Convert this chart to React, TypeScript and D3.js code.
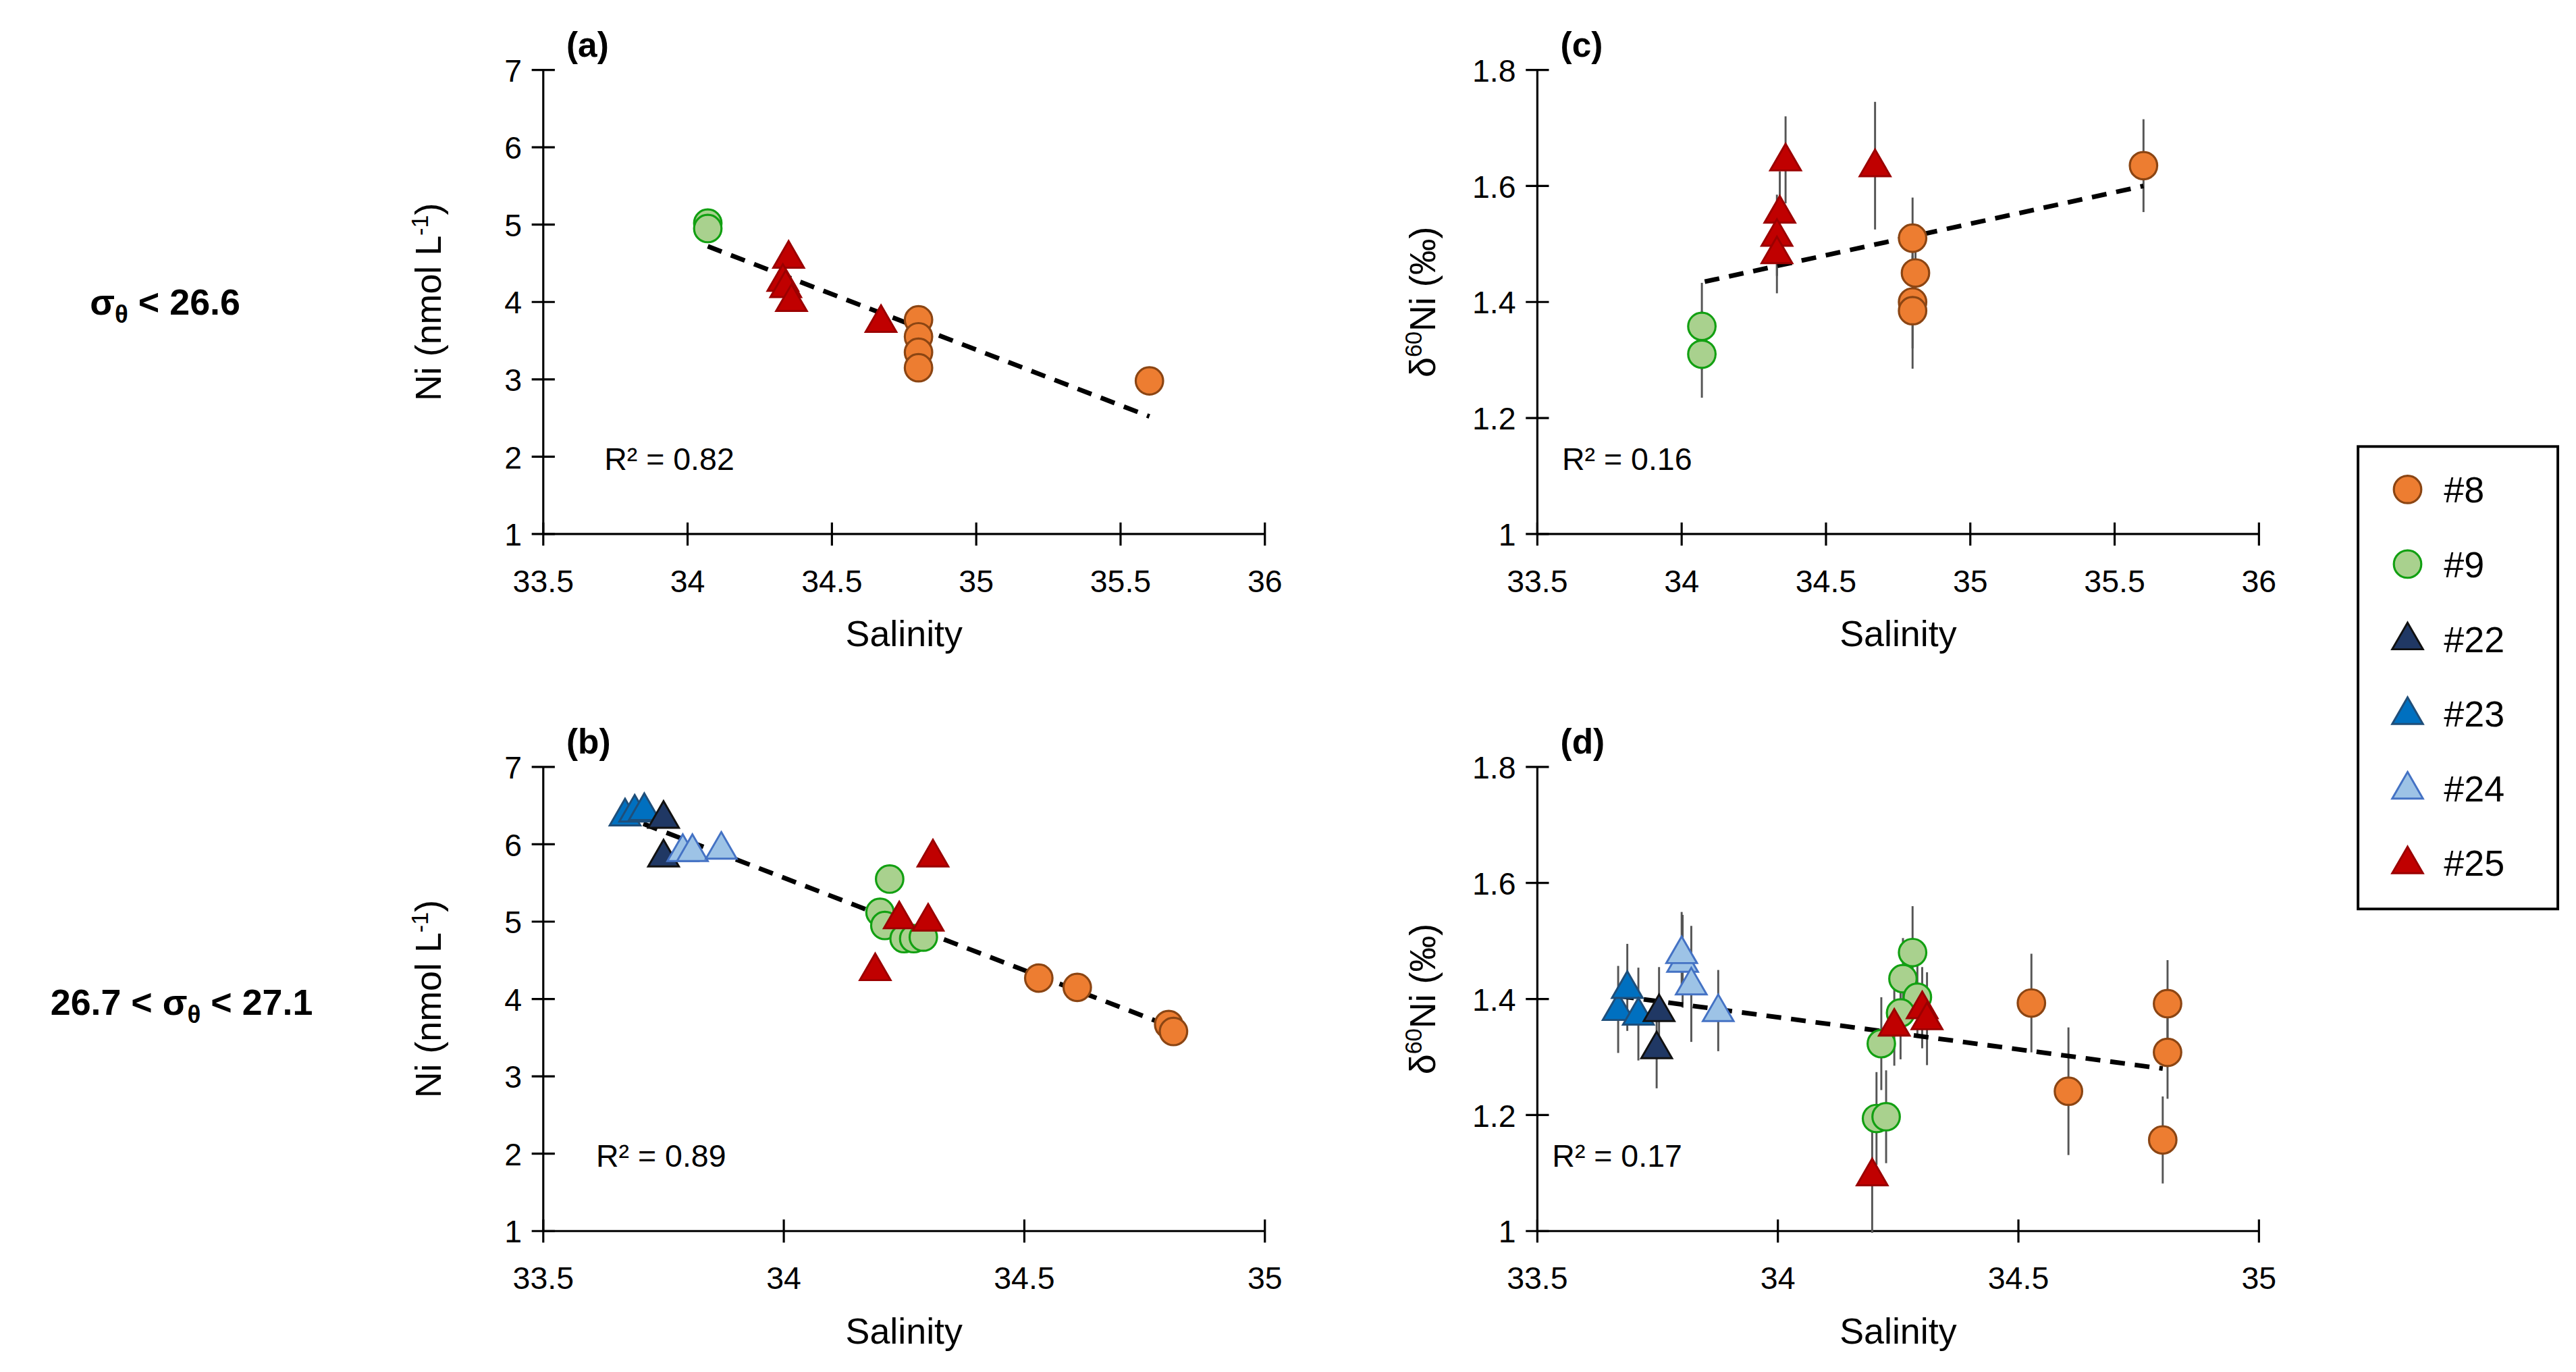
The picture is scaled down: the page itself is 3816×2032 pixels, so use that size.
import React from "react";
import { scaleLinear, symbol, symbolTriangle } from "d3";

// station styles
const stations = ["#8", "#9", "#22", "#23", "#24", "#25"];
const fills: any = { "#8": "#ED7D31", "#9": "#A9D18E", "#22": "#203864", "#23": "#0070C0", "#24": "#9DC3E6", "#25": "#C00000" };
const strokes: any = { "#8": "#8B4513", "#9": "#12A012", "#22": "#111111", "#23": "#1F4E79", "#24": "#4472C4", "#25": "#9B0000" };
const isCircle = (s: string) => s === "#8" || s === "#9";

// [station, salinity, value, error]
const dataA: Array<[string, number, number, number]> = [
  ["#9", 34.07, 5.02, 0], ["#9", 34.07, 4.95, 0],
  ["#25", 34.35, 4.58, 0], ["#25", 34.33, 4.28, 0], ["#25", 34.34, 4.2, 0], ["#25", 34.36, 4.02, 0], ["#25", 34.67, 3.75, 0],
  ["#8", 34.8, 3.77, 0], ["#8", 34.8, 3.55, 0], ["#8", 34.8, 3.35, 0], ["#8", 34.8, 3.15, 0], ["#8", 35.6, 2.98, 0],
];
const dataC: Array<[string, number, number, number]> = [
  ["#9", 34.07, 1.358, 0.075], ["#9", 34.07, 1.31, 0.075],
  ["#25", 34.36, 1.645, 0.075], ["#25", 34.34, 1.555, 0.07], ["#25", 34.33, 1.515, 0.07], ["#25", 34.33, 1.485, 0.07], ["#25", 34.67, 1.635, 0.11],
  ["#8", 34.8, 1.51, 0.07], ["#8", 34.81, 1.45, 0.08], ["#8", 34.8, 1.40, 0.08], ["#8", 34.8, 1.385, 0.1], ["#8", 35.6, 1.635, 0.08],
];
const dataB: Array<[string, number, number, number]> = [
  ["#23", 33.67, 6.38, 0], ["#23", 33.69, 6.43, 0], ["#23", 33.71, 6.45, 0],
  ["#22", 33.75, 6.35, 0], ["#22", 33.75, 5.85, 0],
  ["#24", 33.79, 5.92, 0], ["#24", 33.81, 5.92, 0], ["#24", 33.87, 5.95, 0],
  ["#9", 34.22, 5.55, 0], ["#9", 34.2, 5.12, 0], ["#9", 34.21, 4.95, 0], ["#9", 34.25, 4.78, 0], ["#9", 34.27, 4.78, 0], ["#9", 34.29, 4.8, 0],
  ["#25", 34.31, 5.85, 0], ["#25", 34.24, 5.05, 0], ["#25", 34.3, 5.02, 0], ["#25", 34.19, 4.38, 0],
  ["#8", 34.53, 4.27, 0], ["#8", 34.61, 4.15, 0], ["#8", 34.8, 3.67, 0], ["#8", 34.81, 3.58, 0],
];
const dataD: Array<[string, number, number, number]> = [
  ["#23", 33.668, 1.382, 0.075], ["#23", 33.687, 1.42, 0.075], ["#23", 33.71, 1.374, 0.08],
  ["#22", 33.753, 1.38, 0.075], ["#22", 33.748, 1.316, 0.07],
  ["#24", 33.802, 1.465, 0.08], ["#24", 33.80, 1.48, 0.07], ["#24", 33.82, 1.426, 0.1], ["#24", 33.876, 1.38, 0.07],
  ["#9", 34.28, 1.48, 0.08], ["#9", 34.26, 1.435, 0.07], ["#9", 34.29, 1.403, 0.07], ["#9", 34.255, 1.376, 0.08], ["#9", 34.215, 1.323, 0.08], ["#9", 34.205, 1.194, 0.08], ["#9", 34.225, 1.197, 0.08],
  ["#25", 34.196, 1.097, 0.1], ["#25", 34.242, 1.355, 0.07], ["#25", 34.3, 1.385, 0.07], ["#25", 34.31, 1.366, 0.08],
  ["#8", 34.527, 1.393, 0.085], ["#8", 34.604, 1.241, 0.11], ["#8", 34.81, 1.392, 0.075], ["#8", 34.81, 1.308, 0.08], ["#8", 34.80, 1.157, 0.075],
];

const trendA = [[34.07, 4.72], [35.6, 2.52]];
const trendC = [[34.08, 1.435], [35.6, 1.6]];
const trendB = [[33.66, 6.38], [34.81, 3.63]];
const trendD = [[33.67, 1.405], [34.8, 1.28]];

const xTicksWide = [33.5, 34, 34.5, 35, 35.5, 36];
const xTicksNarrow = [33.5, 34, 34.5, 35];
const niTicks = [1, 2, 3, 4, 5, 6, 7];
const deltaTicks = [1, 1.2, 1.4, 1.6, 1.8];

const FONT = "Liberation Sans, Arial, sans-serif";

const Marker: React.FC<{ s: string; x: number; y: number }> = ({ s, x, y }) =>
  isCircle(s) ? (
    <circle cx={x} cy={y} r={8.3} fill={fills[s]} stroke={strokes[s]} strokeWidth={1.3} />
  ) : (
    <path d={symbol(symbolTriangle, 150)() as string} transform={`translate(${x},${y + 1})`} fill={fills[s]} stroke={strokes[s]} strokeWidth={1.2} />
  );

interface PanelProps {
  left: number; top: number; xDomain: [number, number]; yDomain: [number, number];
  xTicks: number[]; yTicks: number[]; data: Array<[string, number, number, number]>;
  trend: number[][]; tag: string; r2: string; r2x: number; delta: boolean;
}

const Panel: React.FC<PanelProps> = ({ left, top, xDomain, yDomain, xTicks, yTicks, data, trend, tag, r2, r2x, delta }) => {
  const w = 437, h = 281;
  const x = scaleLinear().domain(xDomain).range([left, left + w]);
  const y = scaleLinear().domain(yDomain).range([top + h, top]);
  const yc = top + h / 2;
  return (
    <g fontFamily={FONT}>
      <line x1={left} x2={left} y1={top} y2={top + h} stroke="#000" strokeWidth={1.3} />
      <line x1={left} x2={left + w} y1={top + h} y2={top + h} stroke="#000" strokeWidth={1.3} />
      {yTicks.map((t) => (
        <g key={"y" + t}>
          <line x1={left - 7} x2={left + 7} y1={y(t)} y2={y(t)} stroke="#000" strokeWidth={1.3} />
          <text x={left - 13} y={y(t) + 7} textAnchor="end" fontSize={19}>{t}</text>
        </g>
      ))}
      {xTicks.map((t) => (
        <g key={"x" + t}>
          <line x1={x(t)} x2={x(t)} y1={top + h - 7} y2={top + h + 7} stroke="#000" strokeWidth={1.3} />
          <text x={x(t)} y={top + h + 35} textAnchor="middle" fontSize={19}>{t}</text>
        </g>
      ))}
      <text x={left + w / 2} y={top + h + 68} textAnchor="middle" fontSize={22}>Salinity</text>
      <text transform={`translate(${left - 62},${yc}) rotate(-90)`} textAnchor="middle" fontSize={22}>
        {delta ? (<>δ<tspan fontSize={14} dy={-8}>60</tspan><tspan dy={8}>Ni (‰)</tspan></>)
          : (<>Ni (nmol L<tspan fontSize={14} dy={-8}>-1</tspan><tspan dy={8}>)</tspan></>)}
      </text>
      <text x={left + 14} y={top - 8} fontSize={21} fontWeight="bold">{tag}</text>
      <text x={r2x} y={top + h - 39} fontSize={19}>R² = {r2}</text>
      {data.filter((d) => d[3] > 0).map((d, i) => (
        <line key={"e" + i} x1={x(d[1])} x2={x(d[1])} y1={y(d[2] - d[3])} y2={y(d[2] + d[3])} stroke="#555" strokeWidth={1.2} />
      ))}
      <line x1={x(trend[0][0])} y1={y(trend[0][1])} x2={x(trend[1][0])} y2={y(trend[1][1])} stroke="#000" strokeWidth={2.8} strokeDasharray="9,6" />
      {data.map((d, i) => <Marker key={"m" + i} s={d[0]} x={x(d[1])} y={y(d[2])} />)}
    </g>
  );
};

export default function App() {
  return (
    <svg width={3816} height={2032} viewBox="0 0 1560 830" style={{ position: "absolute", left: 0, top: 0, background: "#fff" }}>
      <rect width={1560} height={830} fill="#fff" />
      <g fontFamily={FONT} fontWeight="bold" fontSize={22} textAnchor="middle">
        <text x={100} y={190}>σ<tspan fontSize={15} dy={5}>θ</tspan><tspan dy={-5}> &lt; 26.6</tspan></text>
        <text x={110} y={614}>26.7 &lt; σ<tspan fontSize={15} dy={5}>θ</tspan><tspan dy={-5}> &lt; 27.1</tspan></text>
      </g>
      <Panel left={329} top={42} xDomain={[33.5, 36]} yDomain={[1, 7]} xTicks={xTicksWide} yTicks={niTicks} data={dataA} trend={trendA} tag="(a)" r2="0.82" r2x={366} delta={false} />
      <Panel left={931} top={42} xDomain={[33.5, 36]} yDomain={[1, 1.8]} xTicks={xTicksWide} yTicks={deltaTicks} data={dataC} trend={trendC} tag="(c)" r2="0.16" r2x={946} delta={true} />
      <Panel left={329} top={464} xDomain={[33.5, 35]} yDomain={[1, 7]} xTicks={xTicksNarrow} yTicks={niTicks} data={dataB} trend={trendB} tag="(b)" r2="0.89" r2x={361} delta={false} />
      <Panel left={931} top={464} xDomain={[33.5, 35]} yDomain={[1, 1.8]} xTicks={xTicksNarrow} yTicks={deltaTicks} data={dataD} trend={trendD} tag="(d)" r2="0.17" r2x={940} delta={true} />
      <g fontFamily={FONT}>
        <rect x={1428} y={270} width={121} height={280} fill="none" stroke="#000" strokeWidth={1.6} />
        {stations.map((s, i) => (
          <g key={s}>
            <Marker s={s} x={1458} y={296 + i * 45.2} />
            <text x={1480} y={296 + i * 45.2 + 8} fontSize={22}>{s}</text>
          </g>
        ))}
      </g>
    </svg>
  );
}
